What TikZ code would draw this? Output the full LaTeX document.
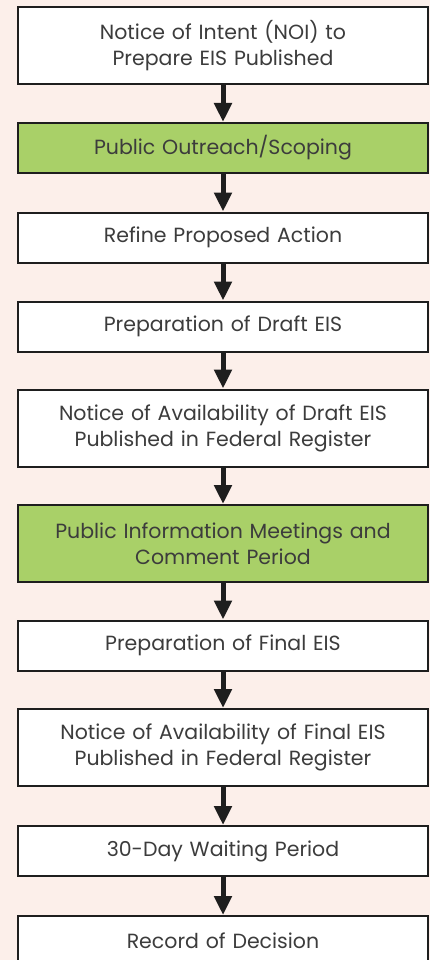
\documentclass[tikz,border=0pt]{standalone}
\usepackage{fontspec}
\setmainfont{Poppins}
\usetikzlibrary{arrows.meta}
\definecolor{bgc}{RGB}{252,239,234}
\definecolor{grn}{RGB}{169,208,104}
\definecolor{txt}{RGB}{60,60,60}
\definecolor{edge}{RGB}{30,30,30}
\tikzset{
  stepbox/.style={draw=edge, line width=2pt, fill=white, minimum width=410pt,
    text width=404pt, align=center, inner sep=0pt, text=txt,
    font=\fontsize{20.5}{26}\selectfont},
  tall/.style={minimum height=77pt},
  short/.style={minimum height=50pt},
  greenbox/.style={fill=grn},
  flow/.style={draw=edge, line width=5pt, -{Triangle[width=17pt,length=19pt]}}
}
\begin{document}
\begin{tikzpicture}[x=1pt,y=-1pt]
\fill[bgc] (0,0) rectangle (430,960);
\useasboundingbox (0,0) rectangle (430,960);
\node[stepbox,tall] (n1) at (223,45.5) {Notice of Intent (NOI) to\\Prepare EIS Published};
\node[stepbox,short,greenbox] (n2) at (223,148) {Public Outreach/Scoping};
\node[stepbox,short] (n3) at (223,237.5) {Refine Proposed Action};
\node[stepbox,short] (n4) at (223,326.5) {Preparation of Draft EIS};
\node[stepbox,tall] (n5) at (223,428) {Notice of Availability of Draft EIS\\Published in Federal Register};
\node[stepbox,tall,greenbox] (n6) at (223,543.5) {Public Information Meetings and\\Comment Period};
\node[stepbox,short] (n7) at (223,645.5) {Preparation of Final EIS};
\node[stepbox,tall] (n8) at (223,747.5) {Notice of Availability of Final EIS\\Published in Federal Register};
\node[stepbox,short] (n9) at (223,851) {30-Day Waiting Period};
\node[stepbox,short] (n10) at (223,941) {Record of Decision};
\foreach \a/\b in {n1/n2,n2/n3,n3/n4,n4/n5,n5/n6,n6/n7,n7/n8,n8/n9,n9/n10}
  \draw[flow] (\a.south) -- (\b.north);
\end{tikzpicture}
\end{document}
